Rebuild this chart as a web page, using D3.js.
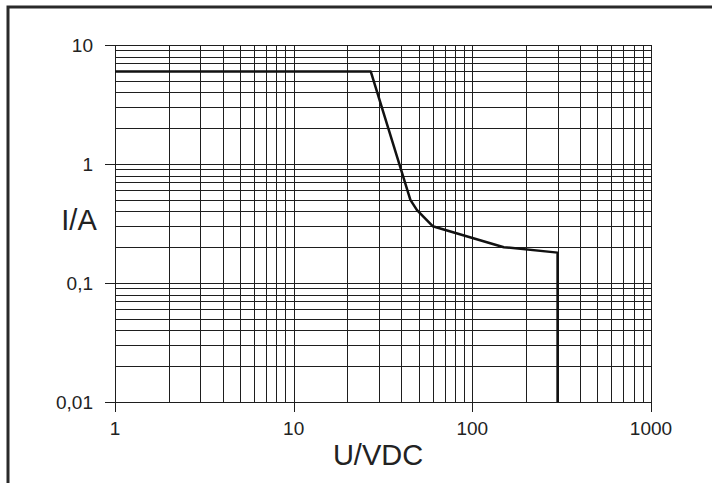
<!DOCTYPE html>
<html>
<head>
<meta charset="utf-8">
<script src="https://cdn.jsdelivr.net/npm/d3@7"></script>
<style>
  body { margin: 0; background: #fff; }
  svg { display: block; font-family: "Liberation Sans", Arial, sans-serif; }
</style>
</head>
<body>
<svg id="chart" width="712" height="483"></svg>
<script>
// curve points (U in VDC, I in A)
const voltage = [1, 27, 45, 49, 60, 150, 300, 300];
const current = [6, 6, 0.5, 0.41, 0.3, 0.2, 0.18, 0.01];

const xTicks = [1, 10, 100, 1000];
const xTickLabels = ["1", "10", "100", "1000"];
const yTicks = [10, 1, 0.1, 0.01];
const yTickLabels = ["10", "1", "0,1", "0,01"];

const svg = d3.select("#chart");
const width = 712, height = 483;
const m = { left: 115, right: 651, top: 45, bottom: 402 };

const x = d3.scaleLog().domain([1, 1000]).range([m.left, m.right]);
const y = d3.scaleLog().domain([0.01, 10]).range([m.bottom, m.top]);

const crisp = v => Math.round(v) + 0.5;

// outer frame (left and top only visible)
svg.append("path")
  .attr("d", `M8,${height} L8,7 L${width},7`)
  .attr("fill", "none")
  .attr("stroke", "#2a2a2a")
  .attr("stroke-width", 3);

// grid: every 1..9 of each decade
const xGrid = [], yGrid = [];
for (let d = 1; d < 1000; d *= 10) for (let k = 1; k <= 9; k++) xGrid.push(d * k);
xGrid.push(1000);
for (let d = 0.01; d < 9; d *= 10) for (let k = 1; k <= 9; k++) yGrid.push(+(d * k).toPrecision(3));
yGrid.push(10);

const grid = svg.append("g").attr("stroke", "#1e1e1e").attr("stroke-width", 1);
grid.selectAll(".vx").data(xGrid).enter().append("line")
  .attr("x1", d => crisp(x(d))).attr("x2", d => crisp(x(d)))
  .attr("y1", m.top).attr("y2", m.bottom);
grid.selectAll(".hy").data(yGrid).enter().append("line")
  .attr("x1", m.left).attr("x2", m.right)
  .attr("y1", d => crisp(y(d))).attr("y2", d => crisp(y(d)));

// tick marks outside the grid
grid.selectAll(".tx").data(xTicks).enter().append("line")
  .attr("x1", d => crisp(x(d))).attr("x2", d => crisp(x(d)))
  .attr("y1", m.bottom).attr("y2", m.bottom + 10);
grid.selectAll(".ty").data(yTicks).enter().append("line")
  .attr("x1", m.left - 10).attr("x2", m.left)
  .attr("y1", d => crisp(y(d))).attr("y2", d => crisp(y(d)));

// tick labels
svg.selectAll(".xl").data(xTicks).enter().append("text")
  .attr("x", d => x(d)).attr("y", 435)
  .attr("text-anchor", "middle")
  .attr("font-size", 19).attr("fill", "#222")
  .text((d, i) => xTickLabels[i]);
svg.selectAll(".yl").data(yTicks).enter().append("text")
  .attr("x", 93).attr("y", d => y(d) + 7)
  .attr("text-anchor", "end")
  .attr("font-size", 19).attr("fill", "#222")
  .text((d, i) => yTickLabels[i]);

// axis titles
svg.append("text").attr("x", 79).attr("y", 230)
  .attr("text-anchor", "middle").attr("font-size", 29).attr("fill", "#222")
  .text("I/A");
svg.append("text").attr("x", 378).attr("y", 465)
  .attr("text-anchor", "middle").attr("font-size", 29).attr("fill", "#222")
  .text("U/VDC");

// characteristic curve
const line = d3.line()
  .x((d, i) => x(voltage[i]))
  .y((d, i) => y(current[i]));
svg.append("path")
  .attr("d", line(voltage))
  .attr("fill", "none")
  .attr("stroke", "#111")
  .attr("stroke-width", 2.5)
  .attr("stroke-linejoin", "round");
</script>
</body>
</html>
